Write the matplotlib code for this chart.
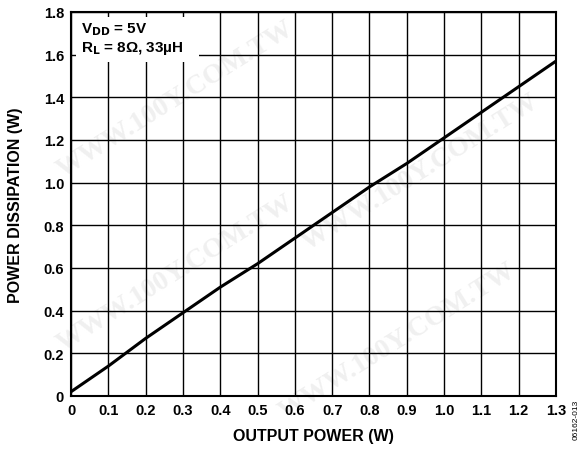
import numpy as np
import matplotlib
matplotlib.use("Agg")
import matplotlib.pyplot as plt
from matplotlib.patches import Rectangle

# data
out_power = [0.0, 0.05, 0.1, 0.2, 0.3, 0.4, 0.5, 0.6, 0.7, 0.8, 0.9, 1.0, 1.1, 1.2, 1.3]
dissipation = [0.02, 0.08, 0.14, 0.27, 0.39, 0.51, 0.62, 0.74, 0.86, 0.98, 1.09, 1.21, 1.33, 1.45, 1.57]
xticks = [0, 0.1, 0.2, 0.3, 0.4, 0.5, 0.6, 0.7, 0.8, 0.9, 1.0, 1.1, 1.2, 1.3]
xlabels = ["0", "0.1", "0.2", "0.3", "0.4", "0.5", "0.6", "0.7", "0.8", "0.9", "1.0", "1.1", "1.2", "1.3"]
yticks = [0, 0.2, 0.4, 0.6, 0.8, 1.0, 1.2, 1.4, 1.6, 1.8]
ylabels = ["0", "0.2", "0.4", "0.6", "0.8", "1.0", "1.2", "1.4", "1.6", "1.8"]

plt.rcParams['font.family'] = ['Liberation Sans', 'DejaVu Sans']
plt.rcParams['font.weight'] = 'bold'

fig = plt.figure(figsize=(5.84, 4.56), dpi=100)
ax = fig.add_axes([71/584, 1-397/456, (556-71)/584, (397-13)/456])
ax.set_zorder(1)
ax.patch.set_alpha(0)

# faint watermark behind the plot
wm_pos = [(0.3, 0.78), (0.72, 0.62), (0.3, 0.4), (0.68, 0.25)]
for px, py in wm_pos:
    fig.text(px, py, "WWW.100Y.COM.TW", fontsize=20, family='Liberation Serif',
             color='#f0f0f0', rotation=32, ha='center', va='center', zorder=0)

ax.plot(out_power, dissipation, color='black', lw=2.2, zorder=3)

ax.set_xlim(0, 1.3)
ax.set_ylim(0, 1.8)
ax.set_xticks(xticks)
ax.set_xticklabels(xlabels)
ax.set_yticks(yticks)
ax.set_yticklabels(ylabels)
ax.grid(True, color='black', lw=1.0)
ax.tick_params(length=0, labelsize=10.5, pad=5)
for s in ax.spines.values():
    s.set_linewidth(1.5)

ax.set_xlabel("OUTPUT POWER (W)", fontsize=11.5, fontweight='bold', labelpad=8)
ax.set_ylabel("POWER DISSIPATION (W)", fontsize=11.5, fontweight='bold', labelpad=15)

# white box behind the conditions text
ax.add_patch(Rectangle((0.013, 1.566), 0.33, 0.211, facecolor='white',
                       edgecolor='none', zorder=4))
ax.text(0.028, 1.76, "V$_{\\mathbf{DD}}$ = 5V\nR$_{\\mathbf{L}}$ = 8Ω, 33µH", fontsize=11,
        fontweight='bold', va='top', ha='left', linespacing=1.15, zorder=5)

fig.text(576/584, 1-420/456, "06162-013", rotation=90, fontsize=6, fontweight='normal',
         ha='center', va='center')

fig.savefig("out.png", dpi=100)
